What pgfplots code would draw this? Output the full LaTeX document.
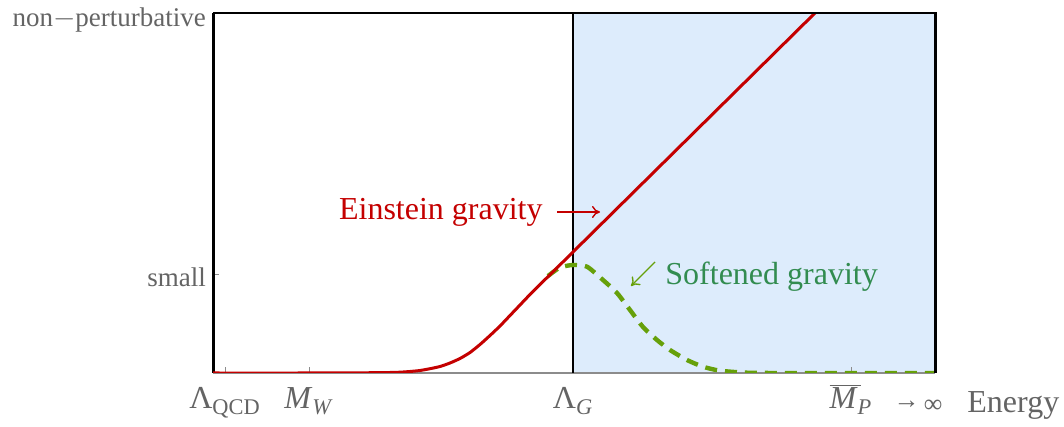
\documentclass[border=0pt]{standalone}
\usepackage{pgfplots}
\pgfplotsset{compat=1.18}
\usepackage{fontspec}
\setmainfont{Liberation Serif}
\usetikzlibrary{arrows.meta}

\definecolor{shade}{RGB}{221,236,252}
\definecolor{ered}{RGB}{196,0,0}
\definecolor{sgreen}{RGB}{102,160,10}
\definecolor{stext}{RGB}{50,140,80}
\definecolor{lab}{RGB}{100,100,100}
\definecolor{tickc}{RGB}{140,140,140}

% red: Einstein gravity, x and y read in pixels off the reference (y = 373 - row)
\pgfplotstableread{
x y
213 0
300 0
380 0.3
390 0.5
400 0.8
410 1.5
420 2.5
430 4.3
440 6.5
450 10
460 14.5
470 20.5
480 28.5
490 37.5
500 47
510 57.5
520 68
530 78.5
540 88.5
550 98.3
573 121
815 360
}\einstein

\pgfplotstableread{
x y
548 97
560 105.5
573 108
587 106.3
603 93
617 80
630 63
643 46
657 33
670 23
687 13
703 6.3
720 2.3
747 0.3
790 0
935 0
}\softened

\begin{document}
\begin{tikzpicture}
\begin{axis}[
  name=ax, at={(0,0)}, anchor=south west,
  scale only axis, width=361pt, height=180pt,
  xmin=213, xmax=935, ymin=0, ymax=360,
  set layers, clip mode=individual,
  axis x line*=bottom, axis y line*=left,
  x axis line style={draw=tickc, line width=0.8pt},
  y axis line style={draw=black, line width=1.5pt},
  tick align=inside, major tick length=3pt,
  tick style={draw=tickc, line width=0.5pt},
  xtick={225,309,573,851},
  xticklabels={Λ\textsubscript{QCD}, \textit{M}\textsubscript{\textit{W}}, Λ\textsubscript{\textit{G}}, $\overline{\hbox{\textit{M}\kern1.5pt}}$\kern-1.5pt\textsubscript{\textit{P}}},
  xticklabel style={font=\fontsize{16}{16}\selectfont, text=lab, anchor=base, yshift=-18pt},
  ytick={98},
  yticklabels={small},
  yticklabel style={font=\fontsize{13.5}{13.5}\selectfont, text=lab, yshift=-1pt},
  extra y ticks={360},
  extra y tick labels={non$-$perturbative},
  extra y tick style={yticklabel style={yshift=-2.5pt}},
]
\addplot[fill=shade, draw=none, on layer=axis background] coordinates {(573,0) (935,0) (935,360) (573,360)} \closedcycle;
\addplot[black, line width=1pt] coordinates {(573,0) (573,360)};
\addplot[sgreen, line width=2.2pt, dash pattern=on 6pt off 4pt, smooth, tension=0.4] table {\softened};
\addplot[ered, line width=1.5pt, line join=round, smooth, tension=0.4] table {\einstein};
\draw[black, line width=1pt] (axis cs:213,360) -- (axis cs:935,360);
\draw[black, line width=1.5pt] (axis cs:935,0) -- (axis cs:935,360.5);
\node[anchor=base east, text=ered, font=\fontsize{16}{16}\selectfont, inner sep=0pt] at (axis cs:543,153) {Einstein gravity};
\draw[ered, line width=0.7pt, -{To[length=4pt,width=6pt]}] (axis cs:557,161) -- (axis cs:600,161);
\draw[sgreen, line width=0.7pt, -{To[length=4pt,width=6pt]}] (axis cs:655,111) -- (axis cs:631,87);
\node[anchor=base west, text=stext, font=\fontsize{16}{16}\selectfont, inner sep=0pt] at (axis cs:665,88) {Softened gravity};
\node[anchor=base, text=lab, font=\fontsize{13}{13}\selectfont, inner sep=0pt] at (axis cs:918,-40) {\raisebox{2pt}{→}\,∞};
\node[anchor=base west, text=lab, font=\fontsize{16}{16}\selectfont, inner sep=0pt] at (axis cs:967,-40) {Energy};
\end{axis}
\pgfresetboundingbox
\useasboundingbox (-106.5pt,-27pt) rectangle (425.5pt,186.5pt);
\end{tikzpicture}
\end{document}
